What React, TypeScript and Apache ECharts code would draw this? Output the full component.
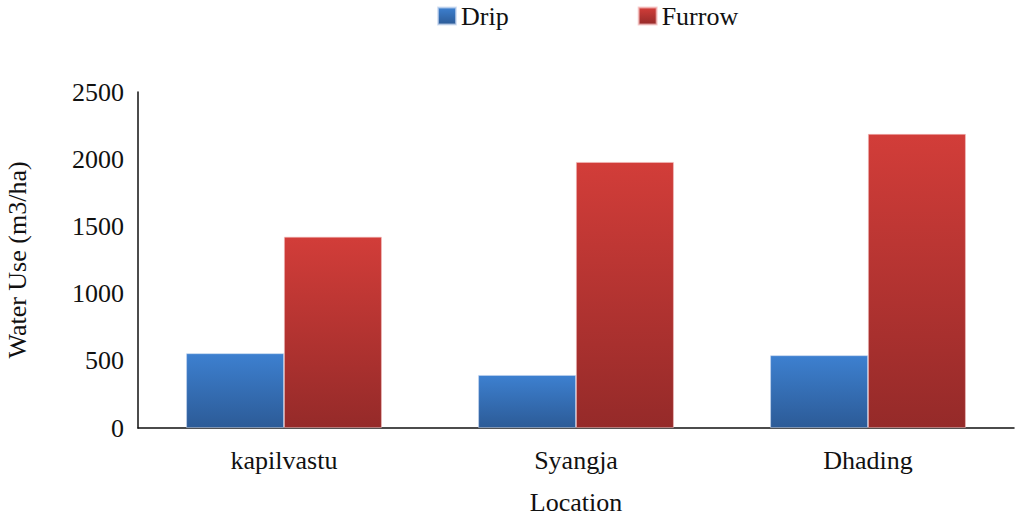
import React, { useEffect, useRef } from "react";
import * as echarts from "echarts";

const categories = ["kapilvastu", "Syangja", "Dhading"];
const dripValues = [556, 394, 541];
const furrowValues = [1423, 1979, 2188];
const seriesNames = ["Drip", "Furrow"];

const FONT = "Liberation Serif";
const FS = 26;

const blueGrad = new echarts.graphic.LinearGradient(0, 0, 0, 1, [
  { offset: 0, color: "#3d80d0" },
  { offset: 1, color: "#2c5b97" },
]);
const redGrad = new echarts.graphic.LinearGradient(0, 0, 0, 1, [
  { offset: 0, color: "#d23d39" },
  { offset: 1, color: "#952a29" },
]);

export default function App() {
  const ref = useRef<HTMLDivElement>(null);
  useEffect(() => {
    if (!ref.current) return;
    const chart = echarts.init(ref.current, null, { renderer: "svg" });
    chart.setOption({
      animation: false,
      backgroundColor: "#ffffff",
      textStyle: { fontFamily: FONT },
      legend: {
        top: 3,
        left: 437,
        padding: 0,
        itemWidth: 18,
        itemHeight: 17,
        itemGap: 129,
        icon: "rect",
        textStyle: { fontFamily: FONT, fontSize: FS, color: "#111" },
        data: seriesNames,
      },
      grid: {
        left: 138,
        right: 10,
        top: 92,
        bottom: 88,
        containLabel: false,
        outerBoundsMode: "none",
      },
      xAxis: {
        type: "category",
        data: categories,
        axisLine: { lineStyle: { color: "#111", width: 1.5 } },
        axisTick: { show: false },
        axisLabel: { fontFamily: FONT, fontSize: FS, color: "#111", margin: 19 },
        name: "Location",
        nameLocation: "middle",
        nameGap: 61,
        nameTextStyle: { fontFamily: FONT, fontSize: FS, color: "#111" },
      },
      yAxis: {
        type: "value",
        min: 0,
        max: 2500,
        interval: 500,
        axisLine: { show: true, lineStyle: { color: "#111", width: 1.5 } },
        axisTick: { show: false },
        splitLine: { show: false },
        axisLabel: {
          fontFamily: FONT,
          fontSize: FS,
          color: "#111",
          margin: 14,
          formatter: (v: number) => String(v),
        },
        name: "Water Use (m3/ha)",
        nameLocation: "middle",
        nameGap: 108,
        nameRotate: 90,
        nameTextStyle: { fontFamily: FONT, fontSize: FS, color: "#111" },
      },
      series: [
        {
          name: seriesNames[0],
          type: "bar",
          data: dripValues,
          barGap: "0%",
          barCategoryGap: "33%",
          itemStyle: { color: blueGrad, borderColor: "rgba(200,215,240,0.7)", borderWidth: 0.8 },
        },
        {
          name: seriesNames[1],
          type: "bar",
          data: furrowValues,
          barGap: "0%",
          barCategoryGap: "33%",
          itemStyle: { color: redGrad, borderColor: "rgba(245,190,190,0.7)", borderWidth: 0.8 },
        },
      ],
    });
    return () => chart.dispose();
  }, []);
  return (
    <div
      ref={ref}
      style={{ position: "fixed", left: 0, top: 0, width: 1024, height: 516 }}
    />
  );
}
